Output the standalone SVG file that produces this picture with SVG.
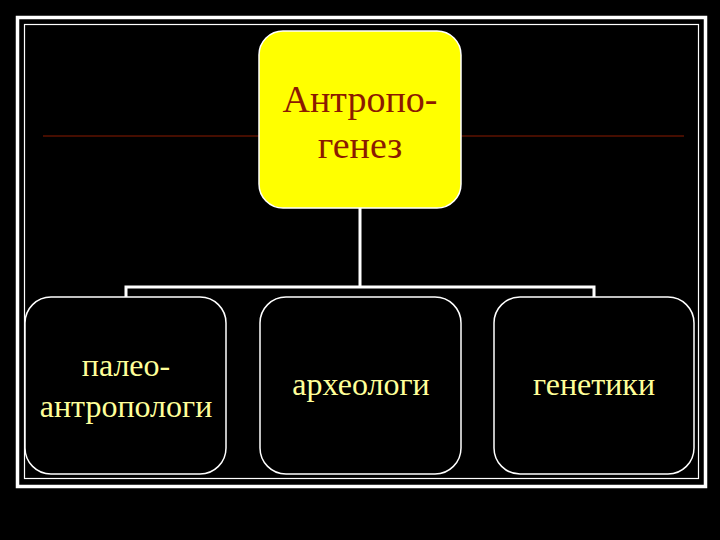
<svg xmlns="http://www.w3.org/2000/svg" width="720" height="540" viewBox="0 0 720 540">
<style>
.frame{fill:none;stroke:#fff}
.box{fill:#000;stroke:#fff;stroke-width:1.5}
.lbl{font-family:"Liberation Serif","Times New Roman",serif;font-size:32px;fill:#FFFF99;text-anchor:middle}
.top{font-family:"Liberation Serif","Times New Roman",serif;font-size:38px;fill:#8B1A00;text-anchor:middle}
.conn{fill:none;stroke:#fff;stroke-width:3}
</style>
<rect x="0" y="0" width="720" height="540" fill="#000"/>
<rect class="frame" x="17.5" y="17.5" width="688" height="469" stroke-width="3.5"/>
<rect class="frame" x="24.5" y="24.5" width="674" height="454" stroke-width="1.2"/>
<line x1="43" y1="136" x2="684" y2="136" stroke="#8B1A00" stroke-width="1"/>
<g id="connectors">
<path class="conn" d="M360 208 V287 M126 297 V287 H594 V297"/>
</g>
<g id="n-root">
<rect x="259" y="31" width="202" height="177" rx="24" fill="#FFFF00" stroke="#fff" stroke-width="1.5"/>
<text class="top" x="360" y="112">Антропо-</text>
<text class="top" x="360" y="158">генез</text>
</g>
<g id="n-paleo">
<rect class="box" x="25" y="297" width="201" height="177" rx="26"/>
<text class="lbl" x="126" y="376">палео-</text>
<text class="lbl" x="126" y="417">антропологи</text>
</g>
<g id="n-arch">
<rect class="box" x="260" y="297" width="201" height="177" rx="26"/>
<text class="lbl" x="361" y="395">археологи</text>
</g>
<g id="n-gen">
<rect class="box" x="494" y="297" width="200" height="177" rx="26"/>
<text class="lbl" x="594" y="395">генетики</text>
</g>
</svg>
